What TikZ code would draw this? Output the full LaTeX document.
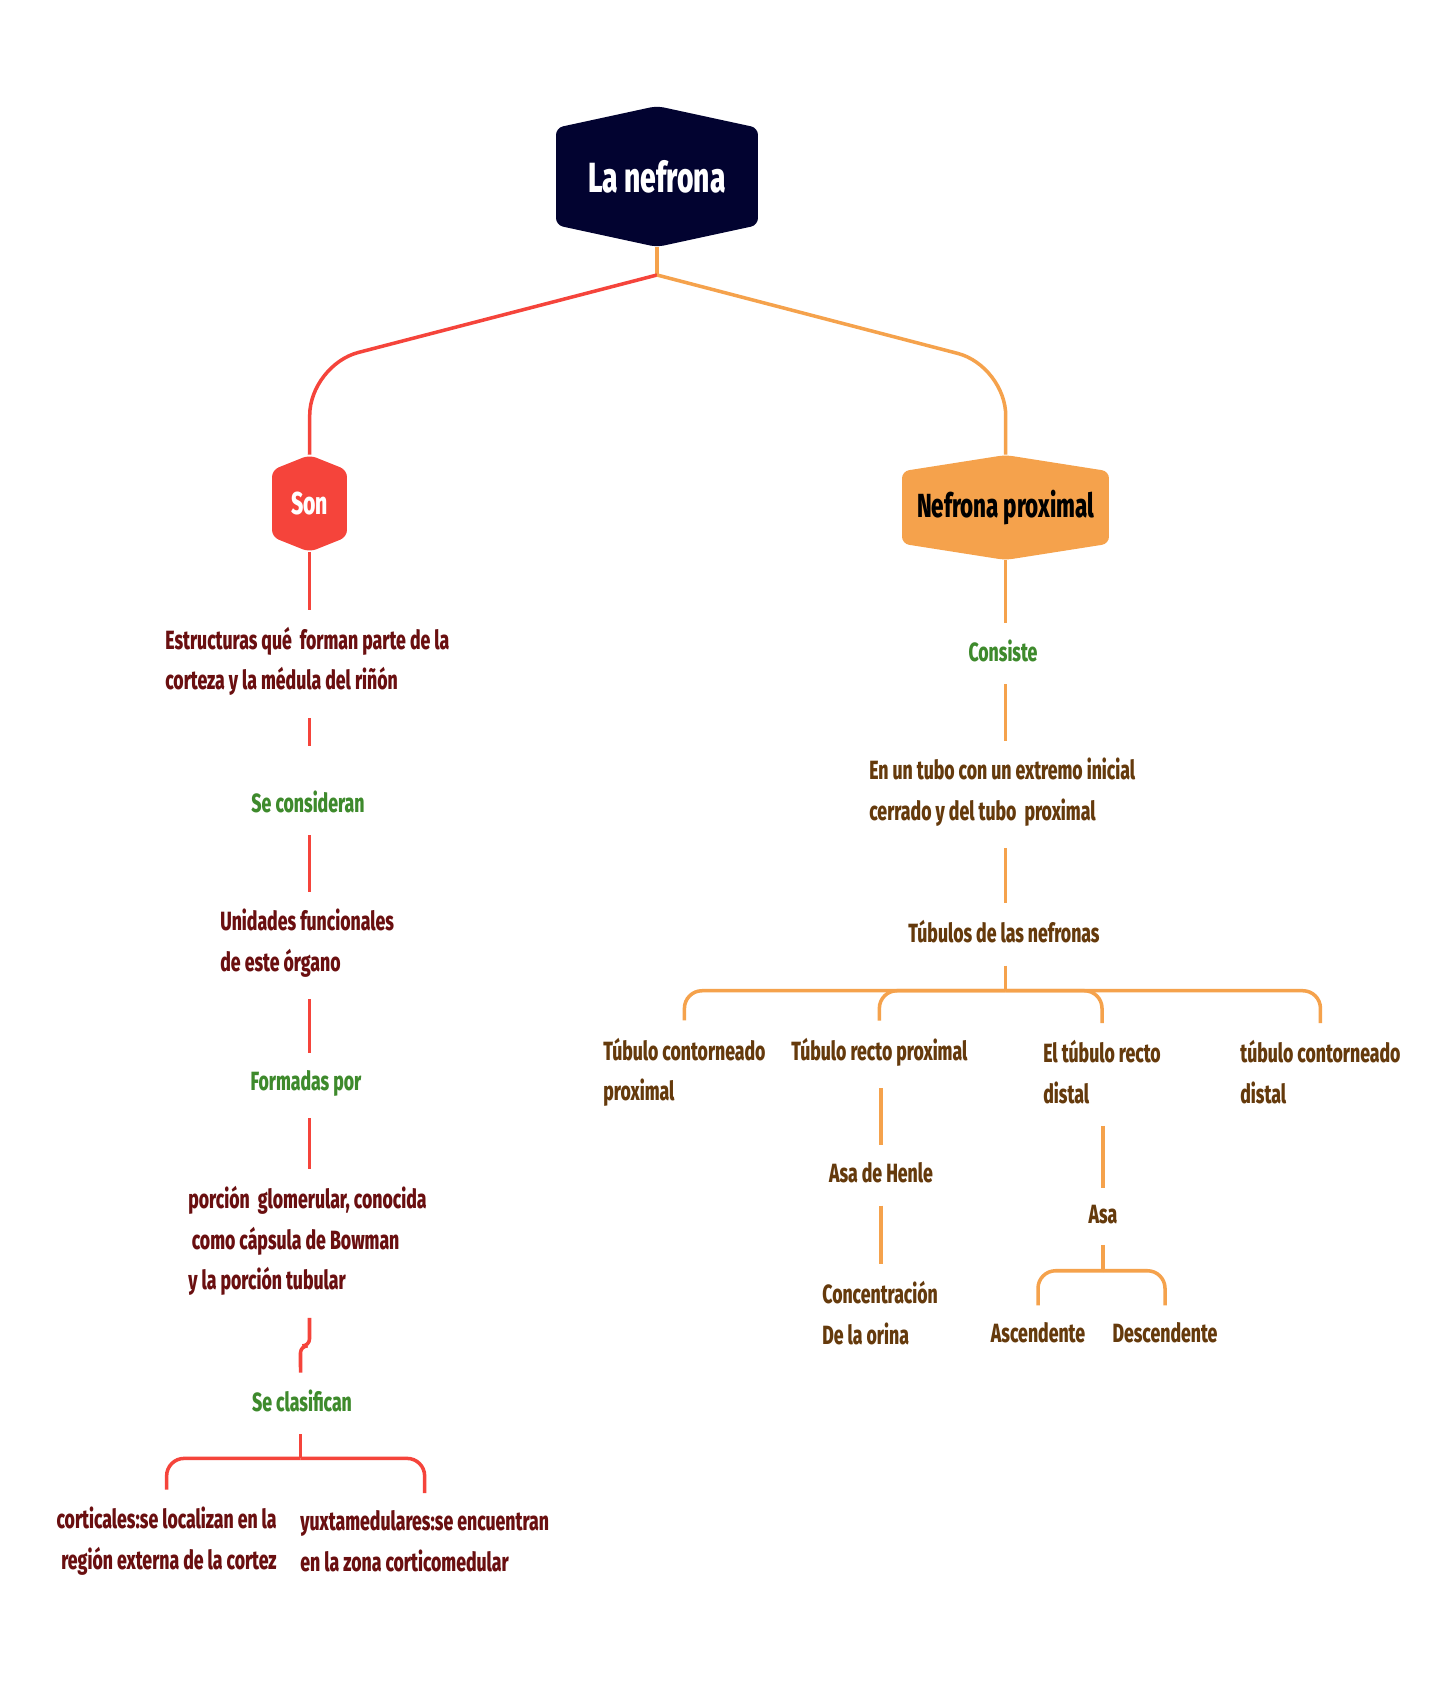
\documentclass[tikz,border=0pt]{standalone}
\usepackage{fontspec}
\newfontfamily\mapfont{Fira Sans}[FakeStretch=0.67, BoldFont={Fira Sans ExtraBold}]
\usetikzlibrary{calc}

\definecolor{navyc}{HTML}{020330}
\definecolor{redc}{HTML}{F5443B}
\definecolor{orangec}{HTML}{F5A24C}
\definecolor{greenc}{HTML}{3E8A2C}
\definecolor{maroonc}{HTML}{6A0F10}
\definecolor{brownc}{HTML}{653A0C}

\tikzset{
  hexa/.style n args={3}{minimum width=#2, minimum height=#3, inner sep=0pt,
    path picture={\fill[#1, rounded corners=4pt]
      ($(path picture bounding box.north west)!0.155!(path picture bounding box.south west)$)
      -- (path picture bounding box.north)
      -- ($(path picture bounding box.north east)!0.155!(path picture bounding box.south east)$)
      -- ($(path picture bounding box.south east)!0.155!(path picture bounding box.north east)$)
      -- (path picture bounding box.south)
      -- ($(path picture bounding box.south west)!0.155!(path picture bounding box.north west)$)
      -- cycle;}},
  txt/.style={font=\mapfont\bfseries\fontsize{15}{23}\selectfont, inner sep=0pt},
  redtext/.style={txt, text=maroonc, align=left},
  browntext/.style={txt, text=brownc, align=left},
  linktext/.style={txt, text=greenc},
  redline/.style={draw=redc, line width=2pt},
  orline/.style={draw=orangec, line width=2pt},
  fromtext/.style={shorten <=0.44cm},
  totext/.style={shorten >=0.34cm}
}

\begin{document}
\begin{tikzpicture}[x=0.02cm, y=-0.02cm]
\useasboundingbox[fill=white] (0,0) rectangle (1455,1692);

% main topics
\node[hexa={navyc}{4.04cm}{2.82cm}, text=white,
  font=\mapfont\bfseries\fontsize{24}{30}\selectfont] (root) at (657,176.5) {La nefrona};
\node[hexa={redc}{1.5cm}{1.94cm}, text=white,
  font=\mapfont\bfseries\fontsize{18}{22}\selectfont] (son) at (309.5,503.5) {Son};
\node[hexa={orangec}{4.14cm}{2.1cm}, text=black,
  font=\mapfont\bfseries\fontsize{19}{25}\selectfont] (nprox) at (1005.5,507.5) {Nefrona proximal};

\coordinate (junc) at (657,275);
\draw[orline] (root.south) -- (junc);
\draw[redline, rounded corners=1cm] (junc) -- (310,365) -- (son.north);
\draw[orline, rounded corners=1cm] (junc) -- (1006,366) -- (nprox.north);

% left branch
\node[redtext, anchor=west] (estr) at (165,661.5) {Estructuras qué\ \ forman parte de la\\corteza y la médula del riñón};
\node[linktext] (secons) at (308,802) {Se consideran};
\node[redtext, anchor=west] (unid) at (220,943) {Unidades funcionales\\de este órgano};
\node[linktext] (formadas) at (306,1083) {Formadas por};
\node[redtext, anchor=west] (porcion) at (188,1241) {porción\ \ glomerular, conocida\\\hspace{2pt}como cápsula de Bowman\\y la porción tubular};
\node[linktext] (seclas) at (302,1401) {Se clasifican};
\node[redtext, align=right, anchor=east] (cort) at (277,1541) {corticales:se localizan en la\\región externa de la cortez};
\node[redtext, anchor=west] (yuxt) at (300,1541) {yuxtamedulares:se encuentran\\en la zona corticomedular};

\draw[redline, totext] (son.south) -- (son.south |- estr.north);
\draw[redline, fromtext, shorten >=0.9cm] (son.south |- estr.south) -- (son.south |- secons.north);
\draw[redline, fromtext, totext] (son.south |- secons.south) -- (son.south |- unid.north);
\draw[redline, fromtext, totext] (son.south |- unid.south) -- (son.south |- formadas.north);
\draw[redline, fromtext, totext] (son.south |- formadas.south) -- (son.south |- porcion.north);
\draw[redline, rounded corners=4pt] ([yshift=-0.44cm]son.south |- porcion.south) -- ++(0,28) -- ++(-9,0)
  -- ([xshift=-0.18cm, yshift=0.34cm]son.south |- seclas.north);
\draw[redline] ([xshift=-0.18cm, yshift=-0.44cm]son.south |- seclas.south) -- ++(0,24) coordinate (bar2);
\foreach \c in {cort,yuxt}
  \draw[redline, totext, rounded corners=10pt] (bar2) -| (\c.north);

% right branch
\node[linktext] (consiste) at (1003,651) {Consiste};
\node[browntext, anchor=west] (tubo) at (869,792) {En un tubo con un extremo inicial\\cerrado y del tubo\ \ proximal};
\node[browntext] (tubulos) at (1004,932) {Túbulos de las nefronas};
\node[browntext, anchor=west] (tc1) at (603,1072) {Túbulo contorneado\\proximal};
\node[browntext, anchor=west] (trp) at (791,1052) {Túbulo recto proximal};
\node[browntext, anchor=west] (etr) at (1043,1072) {El túbulo recto\\distal};
\node[browntext, anchor=west] (tcd) at (1240,1072) {túbulo contorneado\\distal};
\node[browntext] (asahenle) at (881,1173) {Asa de Henle};
\node[browntext, anchor=west] (conc) at (822,1313) {Concentración\\De la orina};
\node[browntext] (asa) at (1103,1215) {Asa};
\node[browntext] (asc) at (1038,1333) {Ascendente};
\node[browntext] (desc) at (1165,1333) {Descendente};

\draw[orline, totext] (nprox.south) -- (nprox.south |- consiste.north);
\draw[orline, fromtext, totext] (nprox.south |- consiste.south) -- (nprox.south |- tubo.north);
\draw[orline, fromtext, totext] (nprox.south |- tubo.south) -- (nprox.south |- tubulos.north);
\draw[orline] ([yshift=-0.44cm]nprox.south |- tubulos.south) -- ++(0,25) coordinate (bar1);
\foreach \c in {tc1,trp,etr,tcd}
  \draw[orline, totext, rounded corners=10pt] (bar1) -| (\c.north);
\draw[orline, fromtext, totext] (asahenle.north |- trp.south) -- (asahenle.north);
\draw[orline, fromtext, totext] (asahenle.south) -- (asahenle.south |- conc.north);
\draw[orline, fromtext, totext] (asa.north |- etr.south) -- (asa.north);
\draw[orline] ([yshift=-0.4cm]asa.south) -- ++(0,26) coordinate (bar3);
\foreach \c in {asc,desc}
  \draw[orline, totext, rounded corners=10pt] (bar3) -| (\c.north);
\end{tikzpicture}
\end{document}
